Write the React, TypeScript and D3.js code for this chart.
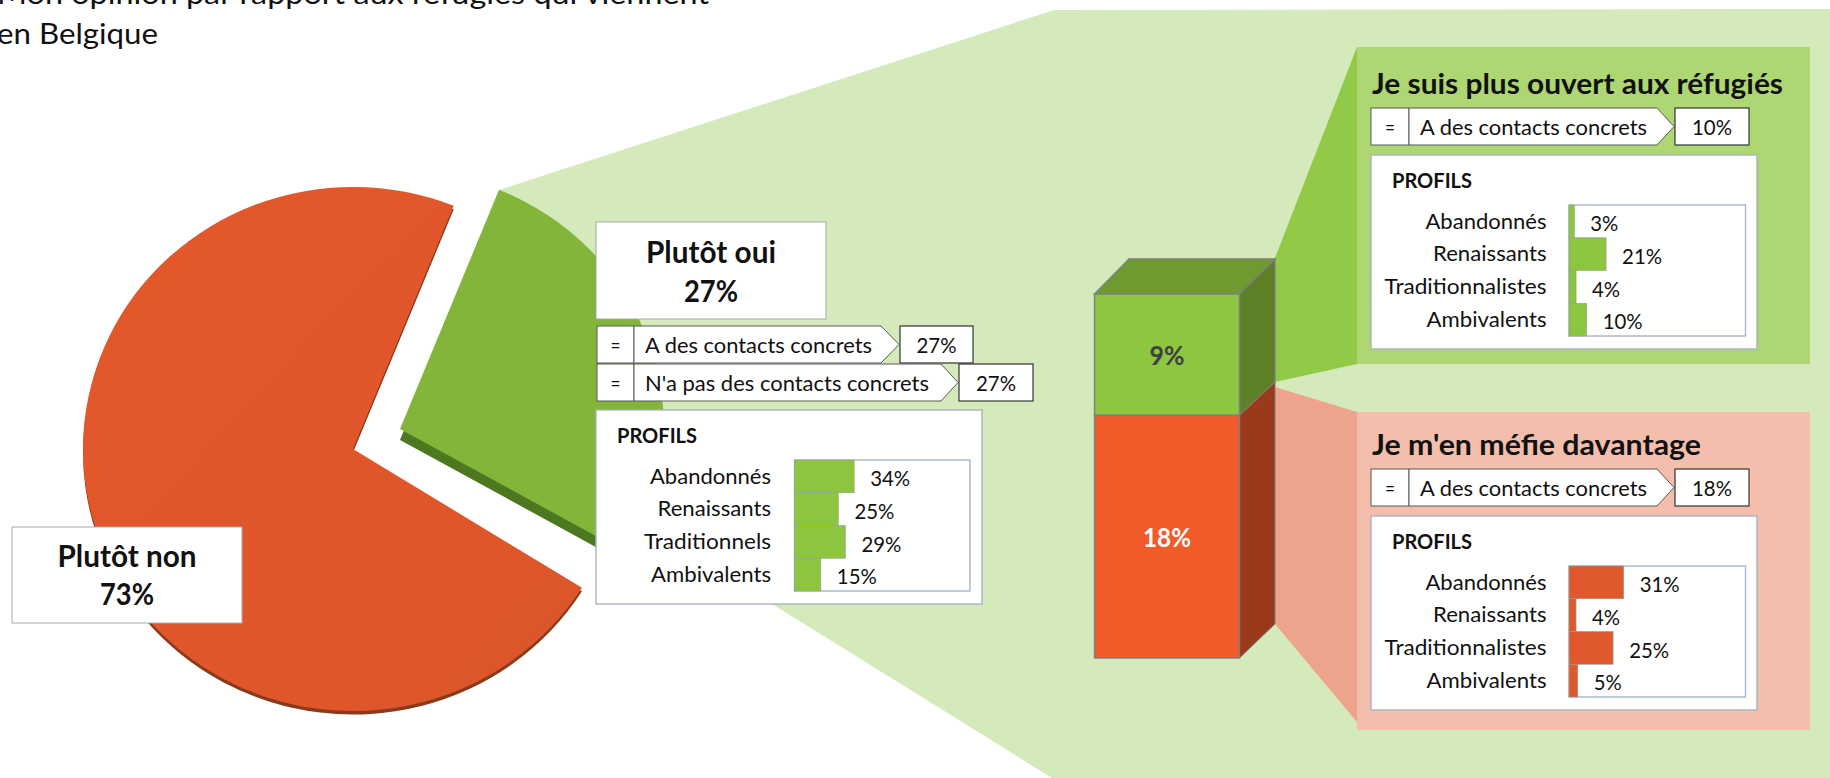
import React from "react";
import * as d3 from "d3";

const pieLabels = ["Plutôt non", "Plutôt oui"];
const pieValues = [73, 27];
const stackLabels = ["Je suis plus ouvert aux réfugiés", "Je m'en méfie davantage"];
const stackValues = [9, 18];
const okProfiles = ["Abandonnés", "Renaissants", "Traditionnels", "Ambivalents"];
const okValues = [34, 25, 29, 15];
const longProfiles = ["Abandonnés", "Renaissants", "Traditionnalistes", "Ambivalents"];
const openValues = [3, 21, 4, 10];
const wary = [31, 4, 25, 5];
const contactLabel = "A des contacts concrets";
const noContactLabel = "N'a pas des contacts concrets";
const titleLines = ["Mon opinion par rapport aux réfugiés qui viennent", "en Belgique"];

const FONT = "Lato, sans-serif";
const textWidths: Record<string, number> = {
  "Plutôt oui": 130, "Plutôt non": 139, PROFILS: 80,
  [contactLabel]: 227, [noContactLabel]: 284, "=": 10,
  [stackLabels[0]]: 411, [stackLabels[1]]: 329,
  [titleLines[0]]: 712, [titleLines[1]]: 161,
  "Abandonnés": 121, "Renaissants": 113.5, "Traditionnalistes": 162, "Traditionnels": 127, "Ambivalents": 120,
};

function T({ x, y, s, size = 21, bold = false, anchor = "start", fill = "#111", w }: any) {
  const tl = w ?? textWidths[s] ?? (s.length >= 3 ? 40 : 28);
  return (
    <text x={x} y={y + 1} fontFamily={FONT} fontSize={size} fontWeight={bold ? 700 : 400} textAnchor={anchor} fill={fill}
      textLength={tl} lengthAdjust="spacingAndGlyphs">{s}</text>
  );
}

function ContactRow({ x, y, h, sep, end, tip, vx, vw, label, value, tx }: any) {
  const pts = [[sep, y], [end, y], [tip, y + h / 2], [end, y + h], [sep, y + h]].map((p) => p.join(",")).join(" ");
  return (
    <g>
      <rect x={x} y={y} width={sep - x} height={h} fill="#fff" stroke="#595959" strokeWidth={1} />
      <polygon points={pts} fill="#fff" stroke="#595959" strokeWidth={1} />
      <rect x={vx} y={y} width={vw} height={h} fill="#fff" stroke="#333" strokeWidth={1.2} />
      <T x={(x + sep) / 2} y={y + 26} s="=" anchor="middle" />
      <T x={tx} y={y + 26} s={label} />
      <T x={vx + vw / 2} y={y + 26} s={value} anchor="middle" />
    </g>
  );
}

function Profiles({ x, y, w, h, titleX, fx, fy, fw, labelX, labels, values, color }: any) {
  const barX = d3.scaleLinear().domain([0, 100]).range([fx, fx + fw]);
  const rowH = 131 / 4;
  const barY = d3.scaleBand<number>().domain(d3.range(values.length)).range([fy, fy + 131]);
  return (
    <g>
      <rect x={x} y={y} width={w} height={h} fill="#fff" stroke="#aab2bf" strokeWidth={1.4} />
      <T x={titleX} y={y + 32} s="PROFILS" bold size={21} />
      <rect x={fx} y={fy} width={fw} height={131} fill="#fff" stroke="#a9b4c6" strokeWidth={1.4} />
      {values.map((v: number, i: number) => (
        <g key={i}>
          <rect x={fx} y={barY(i)} width={barX(v) - fx} height={barY.bandwidth()} fill={color} stroke="#9a9a9a" strokeWidth={0.6} />
          <T x={labelX} y={fy + 22.5 + i * rowH} s={labels[i]} anchor="end" />
          <T x={barX(v) + 16} y={fy + 25 + i * rowH} s={v + "%"} />
        </g>
      ))}
    </g>
  );
}

const rad = (deg: number) => (deg * Math.PI) / 180;

export default function App() {
  // pie: the picture's perspective squeezes the sweep of the red slice a little
  const redArc = d3.pie<number>().sort(null).startAngle(rad(122)).endAngle(rad(122 + 356))(pieValues)[0];
  const greenArc = d3.pie<number>().sort(null).startAngle(rad(22 - 262.8)).endAngle(rad(22 + 97.2))(pieValues)[1];
  const arc = d3.arc<any>().innerRadius(0).outerRadius(1);
  const redPath = arc(redArc)!;
  const greenPath = arc(greenArc)!;

  // stacked column
  const colY = d3.scaleLinear().domain([0, stackValues[0] + stackValues[1]]).range([658, 294]);
  const yMid = colY(stackValues[1]);
  const yTop = colY(stackValues[0] + stackValues[1]);
  const yBot = colY(0);
  const fx0 = 1094.5, fx1 = 1239.5, bx0 = 1129, bx1 = 1275;
  const poly = (p: number[][]) => p.map((q) => q.join(",")).join(" ");
  const edge = "#7f7f7f";

  return (
    <svg width={1830} height={778} viewBox="0 0 1830 778" style={{ position: "absolute", left: 0, top: 0, display: "block" }}>
      <defs>
        <linearGradient id="redG" x1="0" x2="1" y1="0" y2="1">
          <stop offset="0" stopColor="#e4582b" /><stop offset="1" stopColor="#dc552a" />
        </linearGradient>
      </defs>
      <rect width={1830} height={778} fill="#fff" />
      <polygon points="499,190 1054,10 1830,9 1830,778 1052,778 640,522" fill="#d5eabb" />

      {/* title */}
      <T x={-3} y={3} s={titleLines[0]} size={28} />
      <T x={-3} y={43} s={titleLines[1]} size={28} />

      {/* pie */}
      <path d={redPath} transform="translate(353,452.5) scale(270,262)" fill="#8a3a1c" />
      <path d={redPath} transform="translate(353,449) scale(270,262)" fill="url(#redG)" />
      <path d={greenPath} transform="translate(400,440) scale(264,258)" fill="#4d781f" />
      <path d={greenPath} transform="translate(400,429) scale(264,258)" fill="#82b53a" />

      <rect x={596} y={222} width={230} height={97} fill="#fff" stroke="#a6a6a6" />
      <T x={711} y={262} s={pieLabels[1]} bold size={30} anchor="middle" />
      <T x={711} y={301} s={pieValues[1] + "%"} bold size={30} anchor="middle" w={54} />
      <rect x={12} y={527} width={230} height={96} fill="#fff" stroke="#a6adb8" />
      <T x={127} y={566} s={pieLabels[0]} bold size={30} anchor="middle" />
      <T x={127} y={604} s={pieValues[0] + "%"} bold size={30} anchor="middle" w={54} />

      <ContactRow x={597} y={326} h={37} sep={634} end={881} tip={899} vx={900} vw={73} label={contactLabel} value="27%" tx={645} />
      <ContactRow x={597} y={364} h={37} sep={634} end={941} tip={958} vx={959} vw={74} label={noContactLabel} value="27%" tx={645} />
      <Profiles x={596} y={410} w={386} h={194} titleX={617} fx={794.5} fy={460} fw={175.5} labelX={771} labels={okProfiles} values={okValues} color="#8cc63f" />

      {/* connectors */}
      <polygon points={poly([[bx1, 258], [1357, 47], [1357, 364], [bx1, 382]])} fill="#92c947" />
      <polygon points={poly([[bx1, 387], [1357, 412], [1357, 722], [bx1, 624]])} fill="#eea48c" />

      {/* stacked column */}
      <polygon points={poly([[fx0, yTop], [bx0, yTop - 35], [bx1, yTop - 35], [fx1, yTop]])} fill="#6e9a2f" stroke={edge} strokeWidth={1.4} />
      <polygon points={poly([[fx1, yTop], [bx1, yTop - 35], [bx1, yMid - 33], [fx1, yMid]])} fill="#5e8128" stroke={edge} strokeWidth={1.4} />
      <polygon points={poly([[fx1, yMid], [bx1, yMid - 33], [bx1, yBot - 34], [fx1, yBot]])} fill="#9a3a1c" stroke={edge} strokeWidth={1} />
      <rect x={fx0} y={yTop} width={fx1 - fx0} height={yMid - yTop} fill="#8dc63f" stroke={edge} strokeWidth={1.4} />
      <rect x={fx0} y={yMid} width={fx1 - fx0} height={yBot - yMid} fill="#f15a29" stroke={edge} strokeWidth={1.4} />
      <T x={1167} y={364} s={stackValues[0] + "%"} bold size={26} anchor="middle" fill="#404040" w={35} />
      <T x={1167} y={546} s={stackValues[1] + "%"} bold size={26} anchor="middle" fill="#fff" w={48} />

      {/* right panels */}
      <rect x={1357} y={47} width={453} height={317} fill="#aed672" />
      <rect x={1357} y={412} width={453} height={318} fill="#f4bead" />
      <T x={1372} y={93} s={stackLabels[0]} bold size={29} />
      <T x={1372} y={454} s={stackLabels[1]} bold size={29} />
      <ContactRow x={1371} y={108} h={37} sep={1409} end={1657} tip={1674} vx={1675} vw={74} label={contactLabel} value="10%" tx={1420} />
      <ContactRow x={1371} y={469} h={37} sep={1409} end={1657} tip={1674} vx={1675} vw={74} label={contactLabel} value="18%" tx={1420} />
      <Profiles x={1371} y={155} w={386} h={194} titleX={1392} fx={1569} fy={205} fw={176.5} labelX={1546.5} labels={longProfiles} values={openValues} color="#8cc63f" />
      <Profiles x={1371} y={516} w={386} h={194} titleX={1392} fx={1569} fy={566} fw={176.5} labelX={1546.5} labels={longProfiles} values={wary} color="#e0592c" />
    </svg>
  );
}
